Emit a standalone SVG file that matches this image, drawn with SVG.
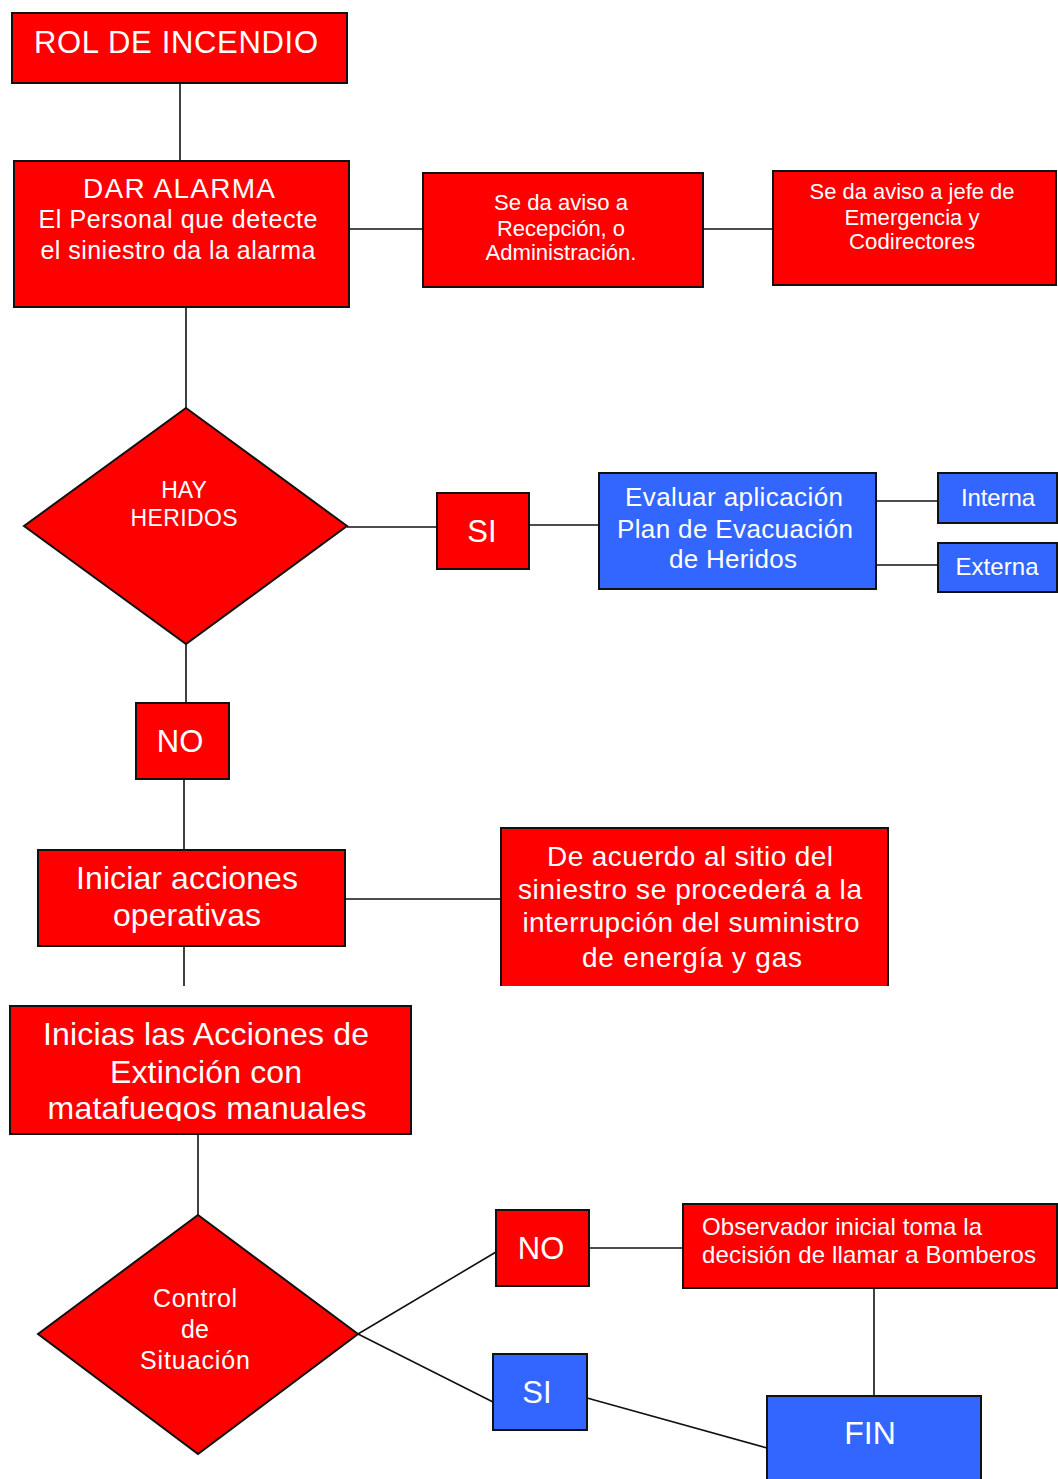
<svg xmlns="http://www.w3.org/2000/svg" width="1058" height="1479" viewBox="0 0 1058 1479">
<style>
.r{fill:#FF0000;stroke:#111;stroke-width:2}
.b{fill:#3366FF;stroke:#111;stroke-width:2}
.t{fill:#fff;font-family:"Liberation Sans",Arial,sans-serif;text-anchor:middle}
.l{fill:#fff;font-family:"Liberation Sans",Arial,sans-serif;text-anchor:start}
.c{stroke:#111;stroke-width:1.6;fill:none}
</style>
<defs>
<clipPath id="clipTop"><rect x="0" y="0" width="1058" height="986"/></clipPath>
<clipPath id="clipMata"><rect x="0" y="1000" width="1058" height="121"/></clipPath>
</defs>
<rect width="1058" height="1479" fill="#fff"/>
<g id="connectors">
<line class="c" x1="180" y1="83" x2="180" y2="161"/>
<line class="c" x1="349" y1="229" x2="423" y2="229"/>
<line class="c" x1="703" y1="229" x2="773" y2="229"/>
<line class="c" x1="186" y1="307" x2="186" y2="408"/>
<line class="c" x1="347" y1="527" x2="437" y2="527"/>
<line class="c" x1="529" y1="525" x2="599" y2="525"/>
<line class="c" x1="876" y1="501" x2="938" y2="501"/>
<line class="c" x1="876" y1="565" x2="938" y2="565"/>
<line class="c" x1="186" y1="644" x2="186" y2="703"/>
<line class="c" x1="184" y1="779" x2="184" y2="850"/>
<line class="c" x1="345" y1="899" x2="501" y2="899"/>
<line class="c" x1="184" y1="946" x2="184" y2="986"/>
<line class="c" x1="198" y1="1134" x2="198" y2="1215"/>
<line class="c" x1="358" y1="1334" x2="496" y2="1252"/>
<line class="c" x1="358" y1="1334" x2="493" y2="1402"/>
<line class="c" x1="589" y1="1248" x2="683" y2="1248"/>
<line class="c" x1="587" y1="1398" x2="767" y2="1448"/>
<line class="c" x1="874" y1="1288" x2="874" y2="1396"/>
</g>
<g id="rol">
<rect class="r" x="12" y="13" width="335" height="70"/>
<text class="t" x="176" y="53" font-size="31" textLength="284">ROL DE INCENDIO</text>
</g>
<g id="dar-alarma">
<rect class="r" x="14" y="161" width="335" height="146"/>
<text class="t" x="179" y="198" font-size="28" textLength="192">DAR ALARMA</text>
<text class="t" x="178" y="228" font-size="25" textLength="279">El Personal que detecte</text>
<text class="t" x="178" y="259" font-size="25" textLength="275">el siniestro da la alarma</text>
</g>
<g id="recepcion">
<rect class="r" x="423" y="173" width="280" height="114"/>
<text class="t" x="561" y="210" font-size="22" textLength="134" lengthAdjust="spacingAndGlyphs">Se da aviso a</text>
<text class="t" x="561" y="236" font-size="22" textLength="128" lengthAdjust="spacingAndGlyphs">Recepción, o</text>
<text class="t" x="561" y="260" font-size="22" textLength="151" lengthAdjust="spacingAndGlyphs">Administración.</text>
</g>
<g id="jefe">
<rect class="r" x="773" y="171" width="283" height="114"/>
<text class="t" x="912" y="199" font-size="22" textLength="205" lengthAdjust="spacingAndGlyphs">Se da aviso a jefe de</text>
<text class="t" x="912" y="225" font-size="22" textLength="135" lengthAdjust="spacingAndGlyphs">Emergencia y</text>
<text class="t" x="912" y="249" font-size="22" textLength="126" lengthAdjust="spacingAndGlyphs">Codirectores</text>
</g>
<g id="hay-heridos">
<polygon class="r" points="186,408 347,526 186,644 24,526"/>
<text class="t" x="184" y="498" font-size="23">HAY</text>
<text class="t" x="184" y="526" font-size="23" textLength="107">HERIDOS</text>
</g>
<g id="si-1">
<rect class="r" x="437" y="493" width="92" height="76"/>
<text class="t" x="482" y="542" font-size="31">SI</text>
</g>
<g id="evaluar">
<rect class="b" x="599" y="473" width="277" height="116"/>
<text class="t" x="734" y="506" font-size="26" textLength="218">Evaluar aplicación</text>
<text class="t" x="735" y="538" font-size="26" textLength="236">Plan de Evacuación</text>
<text class="t" x="733" y="568" font-size="26" textLength="128">de Heridos</text>
</g>
<g id="interna">
<rect class="b" x="938" y="473" width="119" height="50"/>
<text class="t" x="998" y="506" font-size="24" textLength="74">Interna</text>
</g>
<g id="externa">
<rect class="b" x="938" y="543" width="119" height="49"/>
<text class="t" x="997" y="575" font-size="24" textLength="83">Externa</text>
</g>
<g id="no-1">
<rect class="r" x="136" y="703" width="93" height="76"/>
<text class="t" x="180" y="752" font-size="31">NO</text>
</g>
<g id="iniciar">
<rect class="r" x="38" y="850" width="307" height="96"/>
<text class="t" x="187" y="889" font-size="32" textLength="222">Iniciar acciones</text>
<text class="t" x="187" y="926" font-size="32" textLength="148">operativas</text>
</g>
<g id="acuerdo" clip-path="url(#clipTop)">
<rect class="r" x="501" y="828" width="387" height="180"/>
<text class="t" x="690" y="866" font-size="28" textLength="286">De acuerdo al sitio  del</text>
<text class="t" x="690" y="899" font-size="28" textLength="344">siniestro  se procederá a la</text>
<text class="t" x="691" y="932" font-size="28" textLength="337">interrupción del suministro</text>
<text class="t" x="692" y="967" font-size="28" textLength="220">de energía  y gas</text>
</g>
<g id="inicias">
<rect class="r" x="10" y="1006" width="401" height="128"/>
<text class="t" x="206" y="1045" font-size="32" textLength="326">Inicias las Acciones de</text>
<text class="t" x="206" y="1083" font-size="32" textLength="192">Extinción con</text>
<text class="t" x="207" y="1119" font-size="32" textLength="319" clip-path="url(#clipMata)">matafuegos manuales</text>
</g>
<g id="control">
<polygon class="r" points="198,1215 358,1334 198,1454 38,1334"/>
<text class="t" x="195" y="1307" font-size="25" textLength="84">Control</text>
<text class="t" x="195" y="1338" font-size="25">de</text>
<text class="t" x="195" y="1369" font-size="25" textLength="110">Situación</text>
</g>
<g id="no-2">
<rect class="r" x="496" y="1210" width="93" height="76"/>
<text class="t" x="541" y="1259" font-size="31">NO</text>
</g>
<g id="observador">
<rect class="r" x="683" y="1204" width="374" height="84"/>
<text class="l" x="702" y="1235" font-size="24" textLength="280">Observador inicial toma la</text>
<text class="l" x="702" y="1263" font-size="24" textLength="334">decisión de llamar a Bomberos</text>
</g>
<g id="si-2">
<rect class="b" x="493" y="1354" width="94" height="76"/>
<text class="t" x="537" y="1403" font-size="31">SI</text>
</g>
<g id="fin">
<rect class="b" x="767" y="1396" width="214" height="100"/>
<text class="t" x="870" y="1444" font-size="32">FIN</text>
</g>
</svg>
